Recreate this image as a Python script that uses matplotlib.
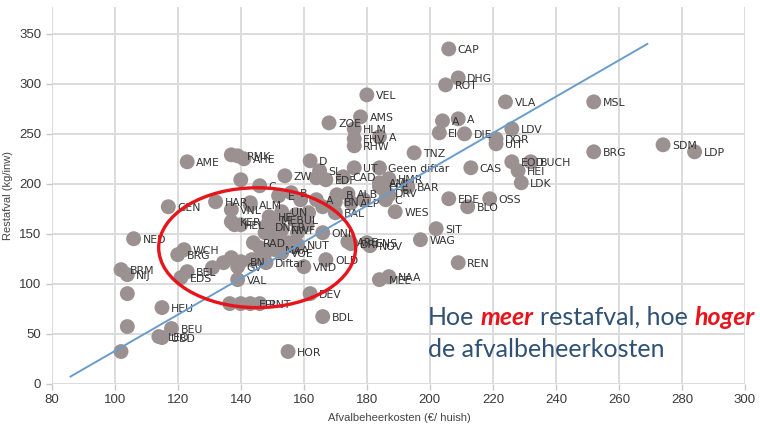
import matplotlib
matplotlib.use("Agg")
import matplotlib.pyplot as plt
from matplotlib.patches import Ellipse

# ---------------- data ----------------
names = [
    "CAP", "DHG", "ROT", "VLA", "MSL", "A", "A", "EI", "DIE", "LDV",
    "DOR", "UIT", "TNZ", "BRG", "SDM", "LDP", "CAS", "EOD", "BUCH", "HEI",
    "LDK", "EDE", "OSS", "BLO", "BAR", "WES", "SIT", "WAG", "REN", "NAA",
    "MEE", "C", "VEL", "AMS", "ZOE", "HLM", "A", "EHV", "RHW", "Geen diftar",
    "UT", "D", "SL", "ZW", "AMI", "HMR", "EPE", "DRV", "ALB", "AME",
    "", "RMK", "AHE", "", "C", "E", "B", "GEN", "HAR", "VNL",
    "ALM", "KER", "HEL", "NED", "WCH", "BRG", "BRM", "NIJ", "BEL", "EDS",
    "VAL", "GV", "BN", "RAD", "NUT", "VOE", "MAA", "Diftar", "VND", "OLD",
    "DEV", "BDL", "HEU", "", "", "EPI", "RNT", "", "", "",
    "BEU", "LEO", "UBD", "HOR", "ONI", "ARE", "DRI", "ENS", "NOV", "BAL",
    "BN", "MEBUL", "HE", "UN", "DNER", "NWF", "", "EDF", "CAD", "",
    "A", "", "B", "ALP", "", "", "", "", "", "",
    "", "", "", "", "", "", "", "", "", "",
    "", "", "", "", "", "", "", "",
]
cost = [
    206, 209, 205, 224, 252, 204, 209, 203, 211, 226,
    221, 221, 195, 252, 274, 284, 213, 226, 232, 228,
    229, 206, 219, 212, 193, 189, 202, 197, 209, 187,
    184, 186, 180, 178, 168, 176, 184, 176, 176, 184,
    176, 162, 165, 154, 184, 187, 184, 186, 174, 123,
    137, 139, 141, 140, 146, 152, 156, 117, 132, 137,
    143, 137, 138, 106, 122, 120, 102, 104, 123, 121,
    139, 139, 140, 144, 158, 153, 151, 148, 160, 167,
    162, 166, 115, 136.5, 140, 143, 146, 104, 104, 102,
    118, 114, 115, 155, 166, 174, 175, 180, 181, 170,
    170, 150, 149, 153, 148, 153, 164, 167, 172.5, 159,
    164, 166, 170.5, 175, 179, 187, 157, 140, 161, 151,
    158, 157, 153, 131, 134.5, 137, 143.5, 147, 149, 155,
    143, 152.5, 157.5, 161.5, 148.8, 147.7, 150.4, 146,
]
restafval = [
    335, 306, 299, 282, 282, 263, 265, 251, 250, 255,
    245, 240, 231, 232, 239, 232, 216, 222, 222, 213,
    201, 185, 185, 177, 197, 172, 155, 144, 121, 107,
    104, 184, 289, 267, 261, 255, 247, 245, 238, 216,
    216, 223, 213, 208, 201, 205, 197, 191, 190, 222,
    229, 228, 225, 204, 198, 188, 191, 177, 182, 174,
    179, 162, 159, 145, 134, 129, 114, 109, 112, 106,
    104, 117, 122, 141, 139, 131, 134, 121, 117, 124,
    90, 67, 76, 80, 80, 80, 80, 90, 57, 32,
    55, 47, 46, 32, 151, 142, 140, 141, 138, 171,
    182, 164, 167, 172, 157, 154, 206, 204, 207, 184,
    184, 177, 189, 181, 184, 189, 164, 159, 159, 147,
    151, 137, 134, 116, 121, 126, 124, 129, 134, 141,
    181, 167, 169, 171, 161, 151, 152, 136,
]

trend_x = [86, 269]
trend_y = [7, 340]

x_ticks = [80, 100, 120, 140, 160, 180, 200, 220, 240, 260, 280, 300]
y_ticks = [0, 50, 100, 150, 200, 250, 300, 350]

# ---------------- figure ----------------
W, H = 760, 426
fig = plt.figure(figsize=(W / 100, H / 100), dpi=100)
ax_w = 745 - 51.7
ax_h = 383.5 - 7
ax = fig.add_axes([51.7 / W, (H - 383.5) / H, ax_w / W, ax_h / H])
ax.set_xlim(80, 300)
ax.set_ylim(0, 377)

for s in ax.spines.values():
    s.set_visible(False)
ax.set_xticks(x_ticks)
ax.set_yticks(y_ticks)
ax.grid(True, color="#dcdcdc", lw=1.4, zorder=0)
ax.set_axisbelow(True)
ax.tick_params(axis="both", colors="#c8c8c8", length=4, width=1,
               labelcolor="#3a3a3a", labelsize=9.5)
for lab in ax.get_xticklabels() + ax.get_yticklabels():
    lab.set_fontfamily("Liberation Sans")

ax.set_xlabel("Afvalbeheerkosten (€/ huish)", fontsize=8, color="#444444",
              family="Liberation Sans")
ax.set_ylabel("Restafval (kg/inw)", fontsize=8, color="#444444",
              family="Liberation Sans")
ax.xaxis.set_label_coords((399 - 51.7) / ax_w, -(413 - 383.5) / ax_h)
ax.yaxis.set_label_coords(-(51.7 - 13) / ax_w, 0.5)

ax.scatter(cost, restafval, s=115, color="#9b9191", edgecolors="none", zorder=2)
for n, xv, yv in zip(names, cost, restafval):
    if n:
        ax.annotate(n, (xv, yv), xytext=(6.5, -1), textcoords="offset points",
                    fontsize=7.8, color="#333333", va="center", ha="left",
                    family="DejaVu Sans", zorder=3)

ax.plot(trend_x, trend_y, color="#6b9ccc", lw=1.4, zorder=4)

ell = Ellipse((145.2, 136), width=62.5, height=120, angle=0,
              fill=False, edgecolor="#e8141c", lw=2.4, zorder=5)
ax.add_patch(ell)

# ---------------- annotation text ----------------
r = fig.canvas.get_renderer()
blue = "#2f5176"
red = "#e8141c"
fs = 18
fam = "Lato"


def width(s, **kw):
    t = fig.text(0, 0, s, fontsize=fs, family=fam, **kw)
    w = t.get_window_extent(r).width
    t.remove()
    return w


sp = width("H H") - width("HH")
pieces = [("Hoe", blue, "normal", "normal"),
          ("meer", red, "bold", "italic"),
          ("restafval, hoe", blue, "normal", "normal"),
          ("hoger", red, "bold", "italic")]
x = 428.0
y1 = H - 325
for txt, col, wt, st in pieces:
    t = fig.text(x / W, y1 / H, txt, fontsize=fs, family=fam, color=col,
                 weight=wt, style=st, va="baseline", ha="left")
    x += t.get_window_extent(r).width + sp
fig.text(428 / W, (H - 357) / H, "de afvalbeheerkosten", fontsize=fs,
         family=fam, color=blue, va="baseline", ha="left")

fig.savefig("out.png", dpi=100)
